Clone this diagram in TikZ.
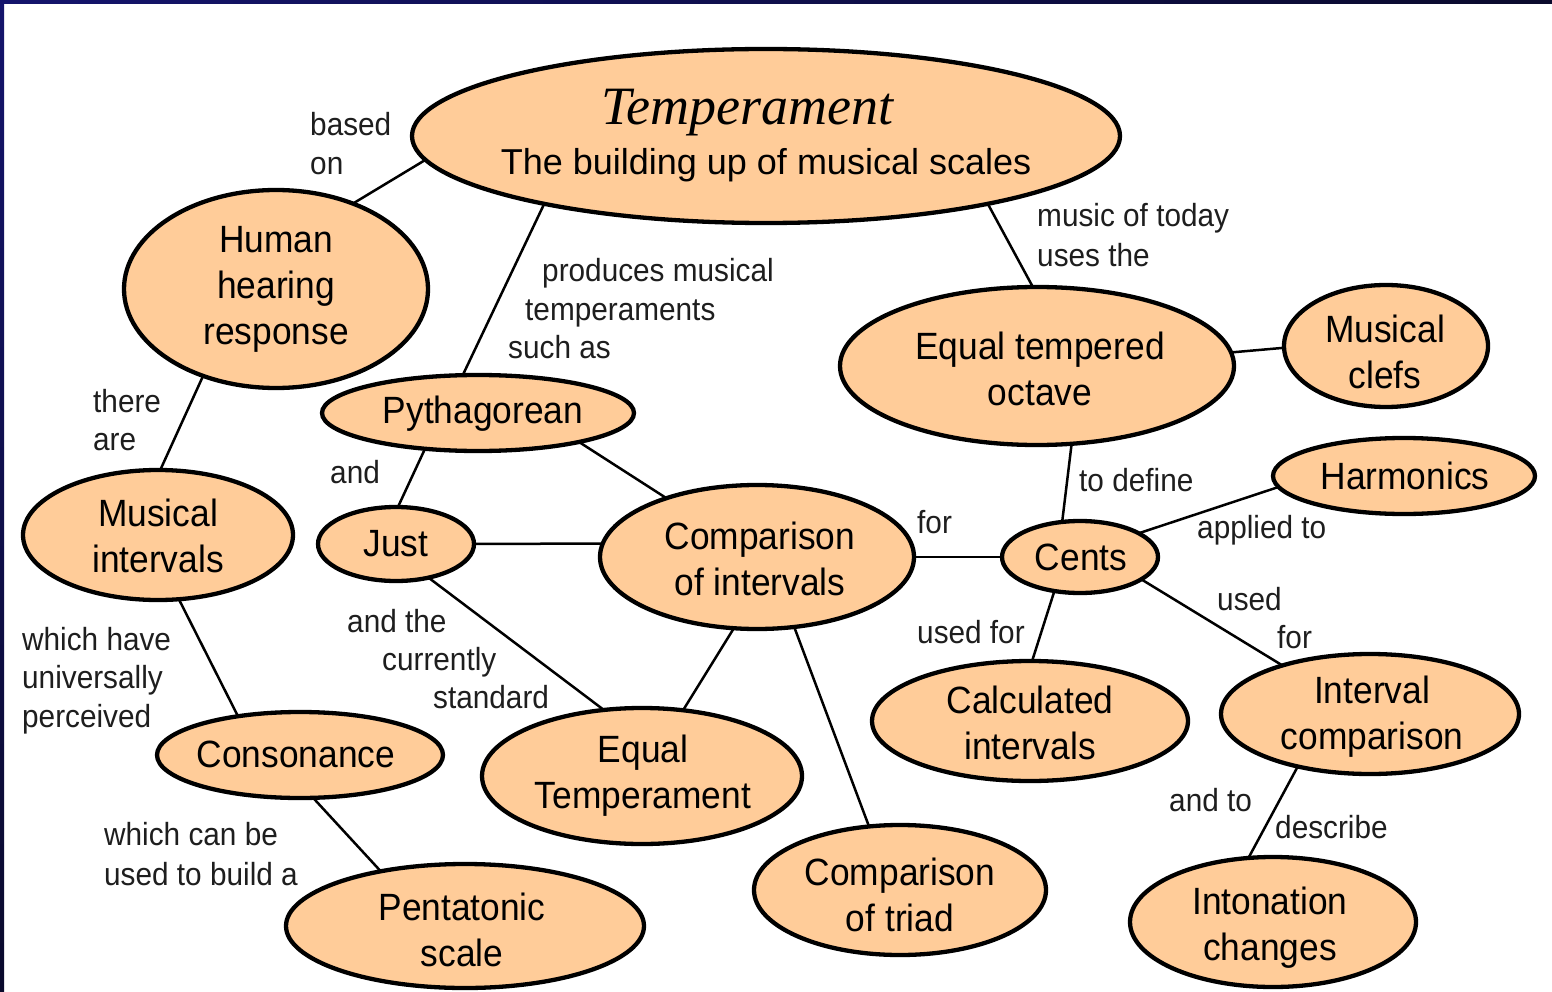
\documentclass[tikz,border=0pt]{standalone}
\usepackage{fontspec}
\setmainfont{Liberation Sans}
\newfontfamily\nodefam[FakeStretch=0.93]{Liberation Sans}
\newfontfamily\serifam{Liberation Serif}
\usetikzlibrary{shapes.geometric}
\definecolor{peach}{HTML}{FFCC99}
\definecolor{navy}{HTML}{14146C}
\definecolor{navydark}{HTML}{0A0A2C}
\definecolor{ink}{HTML}{1E1E1E}

\begin{document}
\begin{tikzpicture}[x=1pt,y=-1pt,
  ell/.style={ellipse, draw=black, line width=4.3pt, fill=peach, inner sep=0pt, outer sep=0pt},
  ntext/.style={font={\nodefam\fontsize{38}{46}\selectfont}, align=center, inner sep=0pt, text=black},
  lab/.style={font={\nodefam\fontsize{32}{39}\selectfont}, anchor=base west, inner sep=0pt, text=ink},
  conn/.style={line width=2.5pt, draw=black},
]
\useasboundingbox (0,0) rectangle (1552,992);
% page and frame
\fill[white] (0,0) rectangle (1552,992);
\shade[left color=navy, right color=navydark] (0,0) rectangle (1552,4);
\shade[top color=navy, bottom color=navydark] (0,0) rectangle (4,992);

% concept ellipses
\node[ell, minimum width=708pt, minimum height=174pt] (temp)  at (766,136)  {};
\node[ell, minimum width=304pt, minimum height=198pt] (hum)   at (276,289)  {};
\node[ell, minimum width=270pt, minimum height=130pt] (mint)  at (158,535)  {};
\node[ell, minimum width=312pt, minimum height=76pt]  (pyth)  at (478,413)  {};
\node[ell, minimum width=156pt, minimum height=74pt]  (just)  at (396,544)  {};
\node[ell, minimum width=314pt, minimum height=144pt] (cint)  at (757,557)  {};
\node[ell, minimum width=394pt, minimum height=158pt] (eto)   at (1037,366) {};
\node[ell, minimum width=204pt, minimum height=122pt] (clef)  at (1386,346) {};
\node[ell, minimum width=262pt, minimum height=76pt]  (harm)  at (1404,476) {};
\node[ell, minimum width=156pt, minimum height=72pt]  (cents) at (1080,557) {};
\node[ell, minimum width=316pt, minimum height=120pt] (calc)  at (1030,721) {};
\node[ell, minimum width=298pt, minimum height=120pt] (icmp)  at (1370,714) {};
\node[ell, minimum width=286pt, minimum height=86pt]  (cons)  at (300,755)  {};
\node[ell, minimum width=320pt, minimum height=136pt] (eqt)   at (642,776)  {};
\node[ell, minimum width=292pt, minimum height=130pt] (triad) at (900,890)  {};
\node[ell, minimum width=358pt, minimum height=124pt] (penta) at (465,926)  {};
\node[ell, minimum width=286pt, minimum height=130pt] (inton) at (1273,922) {};

% texts inside the ellipses
\node[anchor=base, inner sep=0pt, font={\serifam\itshape\fontsize{54}{60}\selectfont}] (tempt)
  at ([xshift=-19pt,yshift=11pt]temp.center) {Temperament};
\node[anchor=base, inner sep=0pt, font={\fontsize{36}{42}\selectfont}] (temps)
  at ([yshift=-39pt]temp.center) {The building up of musical scales};
\node[ntext] (humt)   at (276,289)  {Human\\hearing\\response};
\node[ntext] (mintt)  at (158,536)  {Musical\\intervals};
\node[ntext] (pytht)  at (483,414)  {Pythagorean};
\node[ntext] (justt)  at (396,544)  {Just};
\node[ntext] (cintt)  at (760,559)  {Comparison\\of intervals};
\node[ntext] (etot)   at (1040,369) {Equal tempered\\octave};
\node[ntext] (cleft)  at (1385,352) {Musical\\clefs};
\node[ntext] (harmt)  at (1405,476) {Harmonics};
\node[ntext] (centst) at (1081,557) {Cents};
\node[ntext] (calct)  at (1030,723) {Calculated\\intervals};
\node[ntext] (icmpt)  at (1372,717) {Interval\\comparison};
\node[ntext] (const)  at (296,754)  {Consonance};
\node[ntext] (eqtt)   at (643,776)  {Equal\\Temperament};
\node[ntext] (triadt) at (900,895)  {Comparison\\of triad};
\node[ntext] (pentat) at (462,930)  {Pentatonic\\scale};
\node[ntext] (intont) at (1270,928) {Intonation\\changes};

% connectors
\draw[conn] (temp.-176) -- (hum.48);
\draw[conn] (temp.-163) -- (pyth.112);
\draw[conn] (temp.-17)  -- (eto.93);
\draw[conn] (hum.-130)  -- (mint.88);
\draw[conn] (pyth.-146) -- (just.87);
\draw[conn] (pyth.-16)  -- (cint.147);
\draw[conn] (just.0)    -- (cint.175);
\draw[conn] (just.-46)  -- (eqt.120);
\draw[conn] (cint.-108) -- (eqt.58);
\draw[conn] (cint.-62)  -- (triad.116);
\draw[conn] (cint.0)    -- (cents.180);
\draw[conn] (eto.-66)   -- (cents.117);
\draw[conn] (eto.4)     -- (clef.181);
\draw[conn] (cents.22)  -- (harm.-175);
\draw[conn] (cents.-127) -- (calc.88);
\draw[conn] (cents.-20) -- (icmp.151);
\draw[conn] (mint.-72)  -- (cons.148);
\draw[conn] (cons.-73)  -- (penta.147);
\draw[conn] (icmp.-144) -- (inton.111);

% linking phrases
\node[lab] (la1) at (310,136) {based};
\node[lab] (la2) at (310,175) {on};
\node[lab] (lb1) at (542,281) {produces musical};
\node[lab] (lb2) at (525,320) {temperaments};
\node[lab] (lb3) at (508,358) {such as};
\node[lab] (lc1) at (1037,227) {music of today};
\node[lab] (lc2) at (1037,267) {uses the};
\node[lab] (ld1) at (93,412) {there};
\node[lab] (ld2) at (93,450) {are};
\node[lab] (le1) at (330,483) {and};
\node[lab] (lf1) at (347,632) {and the};
\node[lab] (lf2) at (382,670) {currently};
\node[lab] (lf3) at (433,708) {standard};
\node[lab] (lg1) at (917,533) {for};
\node[lab] (lh1) at (1079,491) {to define};
\node[lab] (li1) at (1197,538) {applied to};
\node[lab] (lj1) at (1217,610) {used};
\node[lab] (lj2) at (1277,648) {for};
\node[lab] (lk1) at (917,643) {used for};
\node[lab] (ll1) at (22,650) {which have};
\node[lab] (ll2) at (22,688) {universally};
\node[lab] (ll3) at (22,727) {perceived};
\node[lab] (lm1) at (104,845) {which can be};
\node[lab] (lm2) at (104,885) {used to build a};
\node[lab] (ln1) at (1169,811) {and to};
\node[lab] (ln2) at (1275,838) {describe};
\end{tikzpicture}
\end{document}
